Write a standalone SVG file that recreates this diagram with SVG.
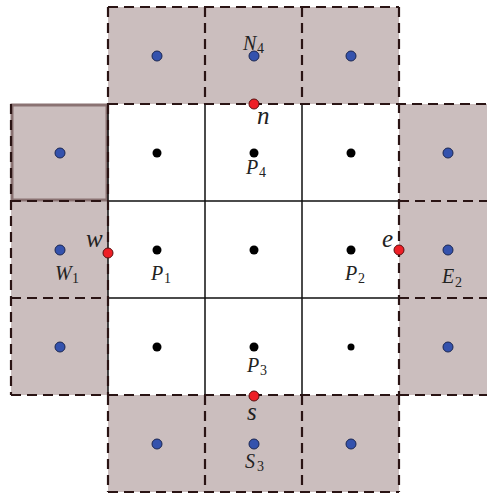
<svg xmlns="http://www.w3.org/2000/svg" width="487" height="494" viewBox="0 0 487 494">
<style>
.sh{fill:#cbbebe;stroke:none}
.dash{fill:none;stroke:#2a1414;stroke-width:2.2;stroke-dasharray:10 6}
.grid{stroke:#111;stroke-width:1.5;fill:none}
.blk{fill:#000}
.blue{fill:#3452ad;stroke:#1b2752;stroke-width:1}
.red{fill:#ee1f26;stroke:#5a1010;stroke-width:1}
.lbl{font-family:"Liberation Serif","DejaVu Serif",serif;font-style:italic;font-size:20px;fill:#222}
.lc{font-family:"Liberation Serif","DejaVu Serif",serif;font-style:italic;font-size:25px;fill:#222}
.sub{font-family:"Liberation Serif","DejaVu Serif",serif;font-style:normal;font-size:14px;fill:#222}
</style>
<rect width="487" height="494" fill="#fff"/>
<g id="cells">
<rect class="sh" x="108" y="7" width="291" height="97"/>
<rect class="sh" x="11" y="104" width="97" height="291"/>
<rect class="sh" x="399" y="104" width="97" height="291"/>
<rect class="sh" x="108" y="395" width="291" height="97"/>
<rect x="12" y="105" width="95" height="95" fill="none" stroke="#8a7272" stroke-width="3"/>
</g>
<g id="connectors">
<path class="grid" d="M205 104V395M302 104V395M108 201H399M108 298H399M108 104V395"/>
<path class="dash" d="M108 7H399M108 104H487M205 7V104M302 7V104M108 7V104M399 7V395M11 104V395M11 201H108M11 298H108M11 395H108M399 201H487M399 298H487M399 395H487M108 395H399M108 492H399M108 395V492M205 395V492M302 395V492M399 395V492M108 104V395"/>
</g>
<g id="top-row">
<circle class="blue" cx="157" cy="56" r="5"/>
<circle class="blue" cx="254" cy="56" r="5"/>
<circle class="blue" cx="351" cy="56" r="5"/>
</g>
<g id="N4"><text class="lbl" x="243" y="50">N</text><text class="sub" x="257" y="53">4</text></g>
<g id="left-col">
<circle class="blue" cx="60" cy="153" r="5"/>
<circle class="blue" cx="60" cy="250" r="5"/>
<circle class="blue" cx="60" cy="347" r="5"/>
</g>
<g id="W1"><text class="lbl" x="55" y="280">W</text><text class="sub" x="72" y="283">1</text></g>
<g id="right-col">
<circle class="blue" cx="448" cy="153" r="5"/>
<circle class="blue" cx="448" cy="250" r="5"/>
<circle class="blue" cx="448" cy="347" r="5"/>
</g>
<g id="E2"><text class="lbl" x="442" y="283">E</text><text class="sub" x="455" y="287">2</text></g>
<g id="bottom-row">
<circle class="blue" cx="157" cy="444" r="5"/>
<circle class="blue" cx="254" cy="444" r="5"/>
<circle class="blue" cx="351" cy="444" r="5"/>
</g>
<g id="S3"><text class="lbl" x="245" y="468">S</text><text class="sub" x="257" y="471">3</text></g>
<g id="interior">
<circle class="blk" cx="157" cy="153" r="4.5"/>
<circle class="blk" cx="254" cy="153" r="4.5"/>
<circle class="blk" cx="351" cy="153" r="4.5"/>
<circle class="blk" cx="157" cy="250" r="4.5"/>
<circle class="blk" cx="254" cy="250" r="4.5"/>
<circle class="blk" cx="351" cy="250" r="4.5"/>
<circle class="blk" cx="157" cy="347" r="4.5"/>
<circle class="blk" cx="254" cy="347" r="4.5"/>
<circle class="blk" cx="351" cy="347" r="3.5"/>
</g>
<g id="P4"><text class="lbl" x="246" y="174">P</text><text class="sub" x="259" y="177">4</text></g>
<g id="P1"><text class="lbl" x="151" y="280">P</text><text class="sub" x="164" y="283">1</text></g>
<g id="P2"><text class="lbl" x="345" y="280">P</text><text class="sub" x="358" y="283">2</text></g>
<g id="P3"><text class="lbl" x="247" y="372">P</text><text class="sub" x="260" y="375">3</text></g>
<g id="faces">
<circle class="red" cx="254" cy="104" r="5"/>
<circle class="red" cx="108" cy="253" r="5"/>
<circle class="red" cx="399" cy="250" r="5"/>
<circle class="red" cx="254" cy="396" r="5"/>
</g>
<g id="n"><text class="lc" x="257" y="124">n</text></g>
<g id="w"><text class="lc" x="86" y="247">w</text></g>
<g id="e"><text class="lc" x="382" y="247">e</text></g>
<g id="s"><text class="lc" x="247" y="420">s</text></g>
</svg>
